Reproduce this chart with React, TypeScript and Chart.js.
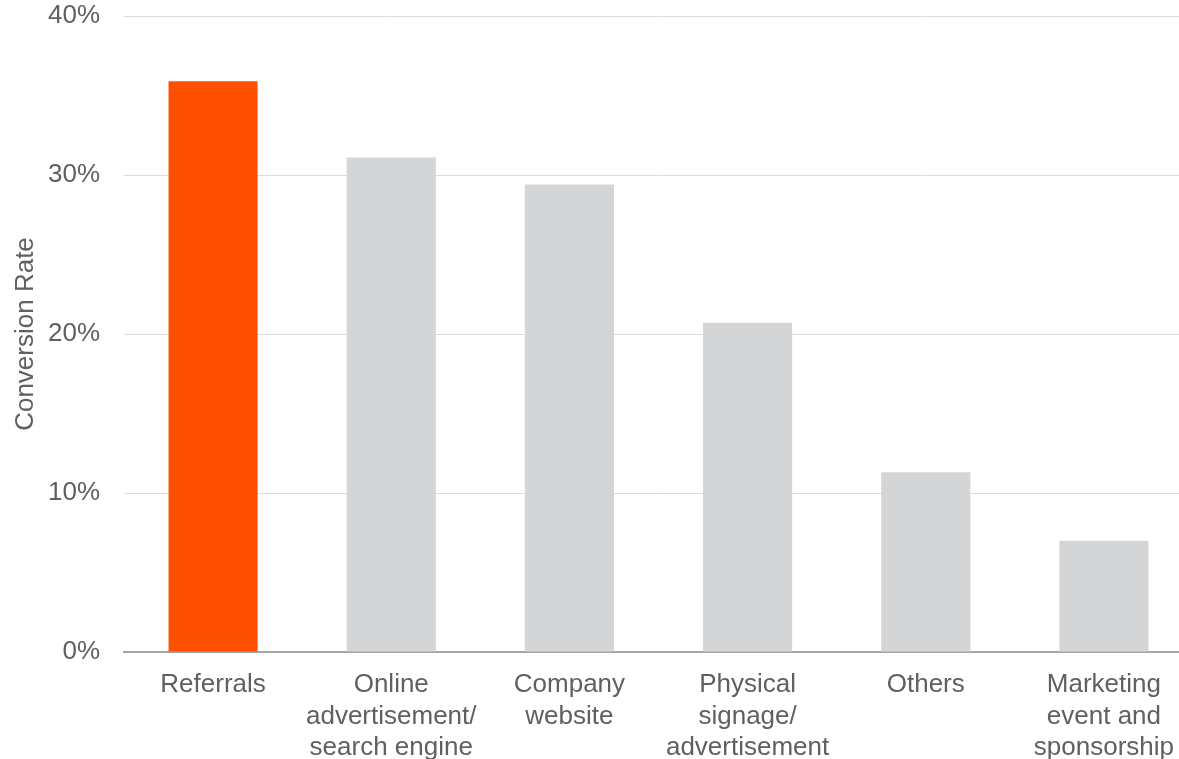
import React, { useEffect, useRef } from "react";
import { Chart, registerables } from "chart.js";

Chart.register(...registerables);

const categories: (string | string[])[] = [
  "Referrals",
  ["Online", "advertisement/", "search engine"],
  ["Company", "website"],
  ["Physical", "signage/", "advertisement"],
  "Others",
  ["Marketing", "event and", "sponsorship"],
];
const conversionRates = [35.9, 31.1, 29.4, 20.7, 11.3, 7.0];
const barColors = ["#FF5000", "#D4D5D7", "#D4D5D7", "#D4D5D7", "#D4D5D7", "#D4D5D7"];
const yTicks = [0, 10, 20, 30, 40];

const FONT = "'Liberation Sans', Arial, sans-serif";
const TEXT = "#5f6062";

export default function App() {
  const ref = useRef<HTMLCanvasElement | null>(null);
  useEffect(() => {
    if (!ref.current) return;
    const chart = new Chart(ref.current, {
      type: "bar",
      data: {
        labels: categories,
        datasets: [
          {
            data: conversionRates,
            backgroundColor: barColors,
            borderWidth: 0,
            barPercentage: 0.5,
            categoryPercentage: 1,
          },
        ],
      },
      options: {
        responsive: false,
        animation: false,
        maintainAspectRatio: false,
        layout: { padding: { top: 16, left: 0, right: 0, bottom: 0 } },
        plugins: { legend: { display: false }, tooltip: { enabled: false } },
        scales: {
          x: {
            grid: { display: false, drawTicks: false },
            border: { display: true, color: "#a5a5a5", width: 2 },
            ticks: {
              color: TEXT,
              font: { family: FONT, size: 26, lineHeight: 1.22 },
              padding: 17,
              maxRotation: 0,
              autoSkip: false,
            },
            afterFit: (s: any) => {
              s.height = 107;
            },
          },
          y: {
            min: 0,
            max: 40,
            afterBuildTicks: (s: any) => {
              s.ticks = yTicks.map((v) => ({ value: v }));
            },
            grid: { color: "#dcdcdc", lineWidth: 1, drawTicks: false },
            border: { display: false },
            ticks: {
              color: TEXT,
              font: { family: FONT, size: 26 },
              padding: 24,
              callback: (v: any) => v + "%",
            },
            title: {
              display: true,
              text: "Conversion Rate",
              color: TEXT,
              font: { family: FONT, size: 26 },
              padding: { top: 10, bottom: 0 },
            },
            afterFit: (s: any) => {
              s.width = 124;
              s.paddingTop = 0;
              s.paddingBottom = 0;
            },
          },
        },
      },
    });
    return () => chart.destroy();
  }, []);
  return (
    <div
      style={{
        position: "absolute",
        left: 0,
        top: 0,
        width: 1179,
        height: 759,
        overflow: "hidden",
        background: "#fff",
      }}
    >
      <canvas ref={ref} width={1193} height={759} style={{ width: 1193, height: 759, display: "block" }} />
    </div>
  );
}
